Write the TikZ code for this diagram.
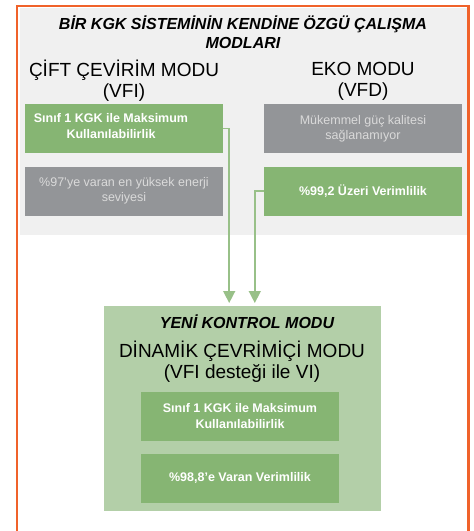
\documentclass[tikz,border=0pt]{standalone}
\usepackage{fontspec}
\setmainfont{Liberation Sans}
\usetikzlibrary{arrows.meta}
\definecolor{kgkorange}{HTML}{F0622A}
\definecolor{panelgray}{HTML}{F0F0F0}
\definecolor{boxgreen}{HTML}{86B573}
\definecolor{boxgray}{HTML}{939598}
\definecolor{lightgreen}{HTML}{B3CFA8}
\definecolor{graytext}{HTML}{DADADA}
\begin{document}
\begin{tikzpicture}[x=1pt,y=-1pt,
    greenbox/.style={fill=boxgreen,minimum width=198pt,minimum height=49pt,inner sep=0pt,
      text=white,align=center,font=\bfseries\fontsize{12.5}{16}\selectfont},
    boxtext/.style={text=white,align=center,inner sep=0pt,font=\bfseries\fontsize{12.5}{16}\selectfont},
    graybox/.style={fill=boxgray,minimum width=198pt,minimum height=49pt,inner sep=0pt,
      text=graytext,align=center,font=\fontsize{12.5}{15}\selectfont},
    heading/.style={align=center,inner sep=0pt,font=\fontsize{19}{21}\selectfont},
    bigtitle/.style={align=center,inner sep=0pt,font=\bfseries\itshape\fontsize{16}{18.5}\selectfont},
    link/.style={draw=boxgreen!85!white,line width=1.5pt,-{Triangle[width=12pt,length=12pt]},shorten >=3pt}]
      \useasboundingbox (0,0) rectangle (474,531);

      \fill[panelgray] (20,8) rectangle (467,235);
      \draw[kgkorange,line width=2.5pt] (17,531) -- (17,6) -- (468.5,6) -- (468.5,531);

      \node[bigtitle] (title) at (243,32) {BİR KGK SİSTEMİNİN KENDİNE ÖZGÜ ÇALIŞMA\\MODLARI};
      \node[heading] (vfihead) at (124,81) {ÇİFT ÇEVİRİM MODU\\(VFI)};
      \node[heading] (ekohead) at (363,81) {EKO MODU\\(VFD)};

      \node[greenbox] (vfiA) at (124,128.5) {};
      \node[boxtext] (vfiAtext) at ([xshift=-13pt,yshift=2pt]vfiA.center) {Sınıf 1 KGK ile Maksimum\\Kullanılabilirlik};
      \node[graybox] (vfiB) at (124,191) {\%97’ye varan en yüksek enerji\\seviyesi};
      \node[graybox] (ekoA) at (363,128.5) {Mükemmel güç kalitesi\\sağlanamıyor};
      \node[greenbox] (ekoB) at (363,191) {\%99,2 Üzeri Verimlilik};

      \fill[lightgreen] (104,306) rectangle (381,511);
      \coordinate (yeni) at (242.5,306);
      \node[bigtitle] (yenititle) at (247,322) {YENİ KONTROL MODU};
      \node[heading] (dinamik) at (242,362) {DİNAMİK ÇEVRİMİÇİ MODU\\(VFI desteği ile VI)};
      \node[greenbox] (yeniA) at (240,416) {Sınıf 1 KGK ile Maksimum\\Kullanılabilirlik};
      \node[greenbox] (yeniB) at (240,478) {\%98,8’e Varan Verimlilik};

      \draw[link] (vfiA.east) -- ++(6,0) coordinate (k1) -- (k1 |- yeni);
      \draw[link] (ekoB.west) -- ++(-9,0) coordinate (k2) -- (k2 |- yeni);
    \end{tikzpicture}
\end{document}
